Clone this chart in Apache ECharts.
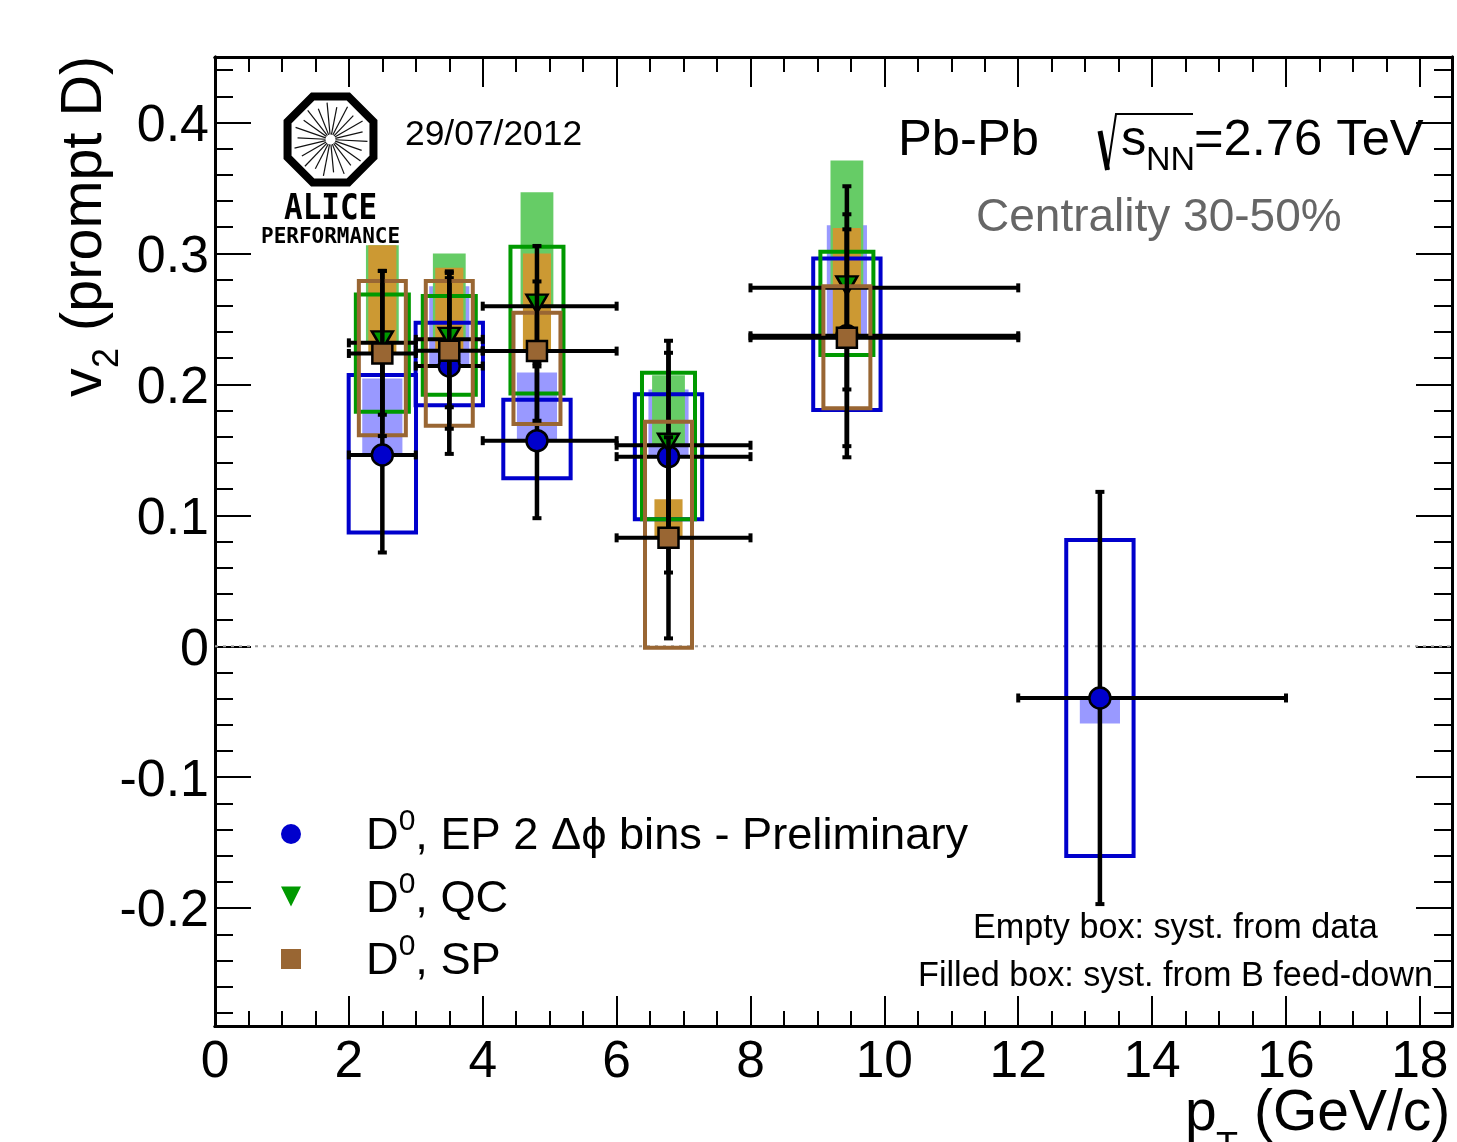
<!DOCTYPE html>
<html><head><meta charset="utf-8"><title>D0 v2 vs pT</title>
<style>html,body{margin:0;padding:0;background:#fff}#c{width:1457px;height:1142px}</style>
<script src="https://cdn.jsdelivr.net/npm/echarts@6/dist/echarts.min.js"></script></head>
<body><div id="c"></div>
<script>
// ---- data ----
const ptCentres = [2.5, 3.5, 4.81, 6.775, 9.44, 13.22];
const ptLow  = [2, 3, 4, 6, 8, 12];
const ptHigh = [3, 4, 6, 8, 12, 16];

const epValues = [0.1461, 0.2140, 0.1570, 0.1448, 0.2371, -0.0395];
const epStat   = [0.0745, 0.0671, 0.0592, 0.0885, 0.0928, 0.1574];
const epBoxHi  = [0.2071, 0.2470, 0.1883, 0.1924, 0.2961, 0.0812];
const epBoxLo  = [0.0868, 0.1840, 0.1283, 0.0970, 0.1804, -0.1602];
const epFeed   = [0.2044, 0.2750, 0.2090, 0.1960, 0.3215, -0.0589];

const qcValues = [0.2317, 0.2344, 0.2597, 0.1535, 0.2737];
const qcStat   = [0.0549, 0.0519, 0.0460, 0.0706, 0.0776];
const qcBoxHi  = [0.2687, 0.2674, 0.3050, 0.2088, 0.3012];
const qcBoxLo  = [0.1790, 0.1920, 0.1930, 0.0970, 0.2224];
const qcFeed   = [0.3062, 0.3000, 0.3467, 0.2070, 0.3710];

const spValues = [0.2236, 0.2256, 0.2254, 0.0828, 0.2356];
const spStat   = [0.0631, 0.0595, 0.0532, 0.0768, 0.0828];
const spBoxHi  = [0.2790, 0.2790, 0.2546, 0.1715, 0.2750];
const spBoxLo  = [0.1611, 0.1684, 0.1697, -0.0011, 0.1817];
const spFeed   = [0.3062, 0.2890, 0.3000, 0.1123, 0.3195];

const xMajorTicks = [0, 2, 4, 6, 8, 10, 12, 14, 16, 18];
const xMinorTicks = [0.5,1,1.5,2.5,3,3.5,4.5,5,5.5,6.5,7,7.5,8.5,9,9.5,10.5,11,11.5,12.5,13,13.5,14.5,15,15.5,16.5,17,17.5];
const yMajorTicks = [-0.2, -0.1, 0, 0.1, 0.2, 0.3, 0.4];
const yMinorTicks = [-0.28,-0.26,-0.24,-0.22,-0.18,-0.16,-0.14,-0.12,-0.08,-0.06,-0.04,-0.02,0.02,0.04,0.06,0.08,0.12,0.14,0.16,0.18,0.22,0.24,0.26,0.28,0.32,0.34,0.36,0.38,0.42,0.44];
const xRange = [0, 18.48];
const yRange = [-0.29, 0.45];

const nameEP = 'D0, EP 2 \u0394\u03d5 bins - Preliminary';
const nameQC = 'D0, QC';
const nameSP = 'D0, SP';

// ---- styling ----
const FONT = '"Liberation Sans", Arial, sans-serif';
const MONO = '"DejaVu Sans Mono", monospace';
const BLUE = '#0000cc', LBLUE = '#9999ff', GREEN = '#009900', LGREEN = '#66cc66', BROWN = '#996633', ORANGE = '#cc9933';

function rows(...cols) { return cols[0].map((_, i) => cols.map(c => c[i])); }

function fillSeries(name, cx, val, edge, halfW, color, z) {
  return { type: 'custom', name, z, silent: true, clip: false,
    data: rows(cx, val, edge), encode: { x: 0, y: [1, 2] },
    renderItem: (p, api) => {
      const a = api.coord([api.value(0) - halfW, api.value(1)]);
      const b = api.coord([api.value(0) + halfW, api.value(2)]);
      return { type: 'rect', shape: { x: a[0], y: Math.min(a[1], b[1]), width: b[0] - a[0], height: Math.abs(b[1] - a[1]) },
        style: { fill: color } };
    } };
}
function boxSeries(name, cx, lo, hi, halfW, color, z) {
  return { type: 'custom', name, z, silent: true, clip: false,
    data: rows(cx, lo, hi), encode: { x: 0, y: [1, 2] },
    renderItem: (p, api) => {
      const a = api.coord([api.value(0) - halfW, api.value(2)]);
      const b = api.coord([api.value(0) + halfW, api.value(1)]);
      return { type: 'rect', shape: { x: a[0], y: a[1], width: b[0] - a[0], height: b[1] - a[1] },
        style: { fill: 'none', stroke: color, lineWidth: 4 } };
    } };
}
function barSeries(name, cx, val, err, xlo, xhi, z) {
  return { type: 'custom', name, z, silent: true, clip: false,
    data: rows(cx, val, err, xlo, xhi), encode: { x: [0, 3, 4], y: 1 },
    renderItem: (p, api) => {
      const x = api.value(0), y = api.value(1), e = api.value(2), l = api.value(3), h = api.value(4);
      const c = api.coord([x, y]), t = api.coord([x, y + e]), b = api.coord([x, y - e]);
      const L = api.coord([l, y]), H = api.coord([h, y]);
      const seg = (x1, y1, x2, y2, w) => ({ type: 'line', shape: { x1, y1, x2, y2 }, style: { stroke: '#000', lineWidth: w } });
      return { type: 'group', children: [
        seg(t[0], t[1], b[0], b[1], 4.5), seg(L[0], c[1], H[0], c[1], 4),
        seg(t[0] - 4.5, t[1], t[0] + 4.5, t[1], 4), seg(b[0] - 4.5, b[1], b[0] + 4.5, b[1], 4),
        seg(L[0], c[1] - 4.5, L[0], c[1] + 4.5, 4), seg(H[0], c[1] - 4.5, H[0], c[1] + 4.5, 4)
      ] };
    } };
}
function markerSeries(name, cx, val, symbol, size, rotate, color, z, offset) {
  return { type: 'scatter', name, z, silent: true, clip: false, symbol, symbolSize: size, symbolRotate: rotate, symbolOffset: offset || [0, 0],
    data: rows(cx, val), itemStyle: { color, opacity: 1, borderColor: '#000', borderWidth: 2.5 } };
}
function valAxis(extra) {
  return Object.assign({ type: 'value', splitLine: { show: false }, scale: false,
    axisLine: { show: true, onZero: false, lineStyle: { color: '#000', width: 3 } } }, extra);
}
function ticks(values, length) { return { show: true, inside: true, length, customValues: values, lineStyle: { color: '#000', width: 2 } }; }
const noLabel = { show: false };
const xBase = { min: xRange[0], max: xRange[1] }, yBase = { min: yRange[0], max: yRange[1] };

function txt(text, x, y, size, opts) {
  return Object.assign({ type: 'text', x, y, silent: true, z: 40,
    style: Object.assign({ text, fontFamily: FONT, fontSize: size, fill: '#000', textAlign: 'left', textVerticalAlign: 'bottom' }, (opts && opts.style) || {}) },
    opts ? { rotation: opts.rotation || 0, scaleX: opts.scaleX || 1 } : {});
}

// ALICE logo decoration
const logoCx = 330.5, logoCy = 139.5, logoR = 46.5;
const octagon = [];
for (let i = 0; i < 8; i++) { const a = Math.PI / 8 + i * Math.PI / 4; octagon.push([logoCx + logoR * Math.cos(a), logoCy + logoR * Math.sin(a)]); }
const logoParts = [{ type: 'polygon', silent: true, z: 40, shape: { points: octagon }, style: { fill: '#fff', stroke: '#000', lineWidth: 8, lineJoin: 'miter' } }];
for (let i = 0; i < 22; i++) { const a = i * 2 * Math.PI / 22 + 0.05; const r = i % 2 ? 33 : 37;
  logoParts.push({ type: 'line', silent: true, z: 41, shape: { x1: logoCx + 5 * Math.cos(a), y1: logoCy + 5 * Math.sin(a), x2: logoCx + r * Math.cos(a), y2: logoCy + r * Math.sin(a) }, style: { stroke: '#111', lineWidth: 1.2 } });
}

const graphicEls = [
  ...logoParts,
  txt('ALICE', 284, 228, 36, { scaleX: 0.86, style: { fontFamily: MONO, fontWeight: 'bold' } }),
  txt('PERFORMANCE', 261, 248, 21, { style: { fontFamily: MONO, fontWeight: 'bold' } }),
  txt('29/07/2012', 405, 153, 35.4),
  txt('Pb-Pb', 898, 167, 50.7),
  { type: 'polyline', silent: true, z: 40, shape: { points: [[1100, 131], [1107.5, 170]] }, style: { stroke: '#000', lineWidth: 5, fill: 'none' } },
  { type: 'polyline', silent: true, z: 40, shape: { points: [[1107.5, 170], [1116, 114], [1193, 114]] }, style: { stroke: '#000', lineWidth: 2, fill: 'none' } },
  txt('s', 1121, 167, 50.7),
  txt('NN', 1146, 178, 34),
  txt('=2.76 TeV', 1194, 167, 50.7),
  txt('Centrality 30-50%', 976, 241, 46, { style: { fill: '#666666' } }),
  txt('Empty box: syst. from data', 973, 946, 34.2),
  txt('Filled box: syst. from B feed-down', 918, 994, 34.2),
  // axis titles
  txt('v', 114, 397, 57.6, { rotation: Math.PI / 2 }),
  txt('2', 126, 368, 36, { rotation: Math.PI / 2 }),
  txt('(prompt D)', 114, 331, 57.6, { rotation: Math.PI / 2 }),
  txt('p', 1185, 1143, 57),
  txt('T', 1216, 1166, 36),
  txt('(GeV/c)', 1254, 1143, 57)
];

const option = {
  animation: false,
  backgroundColor: '#fff',
  textStyle: { fontFamily: FONT },
  grid: [
    { left: 215, right: 5, top: 57, bottom: 116 },
    { left: 215, right: 5, top: 57, bottom: 116 }
  ],
  xAxis: [
    valAxis({ ...xBase, gridIndex: 0, position: 'bottom', axisTick: ticks(xMajorTicks, 30),
      axisLabel: { customValues: xMajorTicks, color: '#000', fontSize: 51.5, fontFamily: FONT, margin: 11, formatter: v => String(v) } }),
    valAxis({ ...xBase, gridIndex: 0, position: 'top', axisTick: ticks(xMajorTicks, 30), axisLabel: noLabel }),
    valAxis({ ...xBase, gridIndex: 1, position: 'bottom', axisTick: ticks(xMinorTicks, 15), axisLabel: noLabel }),
    valAxis({ ...xBase, gridIndex: 1, position: 'top', axisTick: ticks(xMinorTicks, 15), axisLabel: noLabel })
  ],
  yAxis: [
    valAxis({ ...yBase, gridIndex: 0, position: 'left', axisTick: ticks(yMajorTicks, 36),
      axisLabel: { customValues: yMajorTicks, color: '#000', fontSize: 52, fontFamily: FONT, margin: 6, verticalAlign: 'top', lineHeight: 8, formatter: v => String(v) } }),
    valAxis({ ...yBase, gridIndex: 0, position: 'right', axisTick: ticks(yMajorTicks, 36), axisLabel: noLabel }),
    valAxis({ ...yBase, gridIndex: 1, position: 'left', axisTick: ticks(yMinorTicks, 18), axisLabel: noLabel }),
    valAxis({ ...yBase, gridIndex: 1, position: 'right', axisTick: ticks(yMinorTicks, 18), axisLabel: noLabel })
  ],
  legend: {
    orient: 'vertical', left: 276, top: 802, itemWidth: 20, itemHeight: 20, itemGap: 10, selectedMode: false,
    data: [{ name: nameEP }, { name: nameQC, icon: 'path://M0,0 L20,0 L10,20 Z' }, { name: nameSP }],
    itemStyle: { borderWidth: 0 },
    formatter: n => '{a|D}{s|0}{a|' + n.slice(2) + '}',
    textStyle: { padding: [6, 0, 0, 60], color: '#000', rich: {
      a: { fontFamily: FONT, fontSize: 45.2, lineHeight: 60, color: '#000' },
      s: { fontFamily: FONT, fontSize: 30, lineHeight: 32, verticalAlign: 'top', color: '#000' }
    } }
  },
  series: [
    { type: 'line', name: 'zero', z: 1, silent: true, showSymbol: false, symbol: 'none', data: [[xRange[0], 0], [xRange[1], 0]],
      lineStyle: { color: '#a0a0a0', width: 2, type: [3, 5] } },
    fillSeries('EP feed-down', ptCentres, epValues, epFeed, 0.30, LBLUE, 2),
    fillSeries('QC feed-down', ptCentres.slice(0, 5), qcValues, qcFeed, 0.245, LGREEN, 3),
    fillSeries('SP feed-down', ptCentres.slice(0, 5), spValues, spFeed, 0.21, ORANGE, 4),
    boxSeries('EP syst', ptCentres, epBoxLo, epBoxHi, 0.503, BLUE, 5),
    boxSeries('QC syst', ptCentres.slice(0, 5), qcBoxLo, qcBoxHi, 0.396, GREEN, 6),
    barSeries('EP stat', ptCentres, epValues, epStat, ptLow, ptHigh, 7),
    markerSeries(nameEP, ptCentres, epValues, 'circle', 21, 0, BLUE, 8),
    barSeries('QC stat', ptCentres.slice(0, 5), qcValues, qcStat, ptLow.slice(0, 5), ptHigh.slice(0, 5), 9),
    markerSeries(nameQC, ptCentres.slice(0, 5), qcValues, 'triangle', [21, 18], 180, GREEN, 10, [0, -2.5]),
    boxSeries('SP syst', ptCentres.slice(0, 5), spBoxLo, spBoxHi, 0.351, BROWN, 11),
    barSeries('SP stat', ptCentres.slice(0, 5), spValues, spStat, ptLow.slice(0, 5), ptHigh.slice(0, 5), 12),
    markerSeries(nameSP, ptCentres.slice(0, 5), spValues, 'rect', 20, 0, BROWN, 13)
  ],
  graphic: { elements: graphicEls }
};
const chart = echarts.init(document.getElementById('c'), null, { renderer: 'canvas', width: 1457, height: 1142 });
chart.setOption(option);
</script></body></html>
